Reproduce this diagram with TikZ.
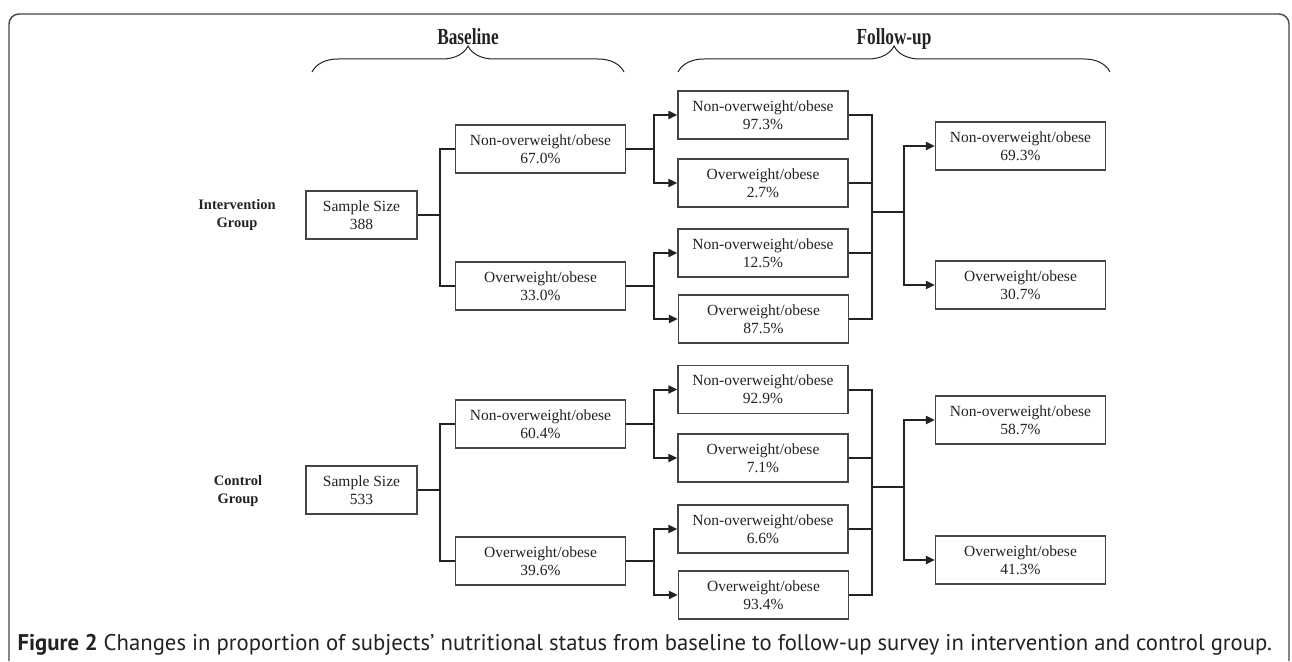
\documentclass[tikz,border=0pt]{standalone}
\usepackage{fontspec}
\setmainfont{Liberation Serif}
\newfontfamily\capfont{PT Sans}
\usetikzlibrary{arrows.meta,decorations.pathreplacing}
\definecolor{ink}{HTML}{222222}
\definecolor{rim}{HTML}{454545}
\tikzset{
  samp/.style  = {rectangle, draw=rim, line width=1.3pt, minimum width=111pt, minimum height=48pt, inner sep=0pt, align=center, text=ink, font=\fontsize{15.5}{18}\selectfont},
  stat/.style  = {samp, minimum width=170pt},
  grp/.style   = {align=center, text=ink, font=\fontsize{14.5}{18}\selectfont\bfseries},
  stage/.style = {anchor=base, text=ink, font=\fontsize{23}{26}\selectfont\bfseries},
  link/.style  = {line width=2pt, draw=ink},
  arr/.style   = {link, -{Triangle[length=9pt,width=8pt]}},
  brc/.style   = {decorate, decoration={brace, amplitude=26pt}, line width=1pt, draw=ink}
}

\begin{document}
\begin{tikzpicture}[x=1pt,y=-1pt]

  \useasboundingbox (0,0) rectangle (1292,661);
  \draw[rim, line width=1.4pt, rounded corners=10pt] (9,661) -- (9,14) -- (1289,14) -- (1289,661);

  % ---- fasi ----
  \node[stage] (base) at (468,45) {\scalebox{0.75}[1]{Baseline}};
  \node[stage] (fol)  at (894,45) {\scalebox{0.75}[1]{Follow-up}};
  \coordinate (bl0) at (312,72); \coordinate (bl1) at (624,72);
  \coordinate (fl0) at (678,72); \coordinate (fl1) at (1110,72);
  \draw[brc] (bl0) -- (bl1);
  \draw[brc] (fl0) -- (fl1);

  % ---- gruppo intervento ----
  \node[grp]  (gi) at (237,215) {Intervention\\Group};
  \node[samp] (s1) at (361.5,215) {Sample Size\\388};
  \node[stat] (a1) at (540.5,149) {Non-overweight/obese\\67.0\%};
  \node[stat] (a2) at (540.5,286) {Overweight/obese\\33.0\%};
  \node[stat] (b1) at (763,115) {Non-overweight/obese\\97.3\%};
  \node[stat] (b2) at (763,183) {Overweight/obese\\2.7\%};
  \node[stat] (b3) at (763,253) {Non-overweight/obese\\12.5\%};
  \node[stat] (b4) at (763.5,319) {Overweight/obese\\87.5\%};
  \node[stat] (c1) at (1020.5,146) {Non-overweight/obese\\69.3\%};
  \node[stat] (c2) at (1020.5,285) {Overweight/obese\\30.7\%};

  \coordinate (j1) at ([xshift=22pt]s1.east);
  \draw[link] (s1.east) -- (j1);
  \draw[link] (a1.west) -| (j1) |- (a2.west);
  \coordinate (k1) at ([xshift=28pt]a1.east);
  \coordinate (k2) at ([xshift=28pt]a2.east);
  \draw[link] (a1.east) -- (k1); \draw[arr] (k1) |- (b1.west); \draw[arr] (k1) |- (b2.west);
  \draw[link] (a2.east) -- (k2); \draw[arr] (k2) |- (b3.west); \draw[arr] (k2) |- (b4.west);
  \coordinate (m1) at (872,212);
  \draw[link] (b1.east) -| (m1) |- (b4.east);
  \draw[link] (b2.east) -| (m1); \draw[link] (b3.east) -| (m1);
  \coordinate (n1) at ([xshift=32pt]m1);
  \draw[link] (m1) -- (n1); \draw[arr] (n1) |- (c1.west); \draw[arr] (n1) |- (c2.west);

  % ---- gruppo controllo ----
  \node[grp]  (gc) at (238,491) {Control\\Group};
  \node[samp] (s2) at (361.5,490) {Sample Size\\533};
  \node[stat] (a3) at (540.5,424) {Non-overweight/obese\\60.4\%};
  \node[stat] (a4) at (540.5,561) {Overweight/obese\\39.6\%};
  \node[stat] (b5) at (763,389.5) {Non-overweight/obese\\92.9\%};
  \node[stat] (b6) at (763,458) {Overweight/obese\\7.1\%};
  \node[stat] (b7) at (763,529) {Non-overweight/obese\\6.6\%};
  \node[stat] (b8) at (763.5,595) {Overweight/obese\\93.4\%};
  \node[stat] (c3) at (1020.5,420) {Non-overweight/obese\\58.7\%};
  \node[stat] (c4) at (1020.5,560) {Overweight/obese\\41.3\%};

  \coordinate (j2) at ([xshift=22pt]s2.east);
  \draw[link] (s2.east) -- (j2);
  \draw[link] (a3.west) -| (j2) |- (a4.west);
  \coordinate (k3) at ([xshift=28pt]a3.east);
  \coordinate (k4) at ([xshift=28pt]a4.east);
  \draw[link] (a3.east) -- (k3); \draw[arr] (k3) |- (b5.west); \draw[arr] (k3) |- (b6.west);
  \draw[link] (a4.east) -- (k4); \draw[arr] (k4) |- (b7.west); \draw[arr] (k4) |- (b8.west);
  \coordinate (m2) at (872,487);
  \draw[link] (b5.east) -| (m2) |- (b8.east);
  \draw[link] (b6.east) -| (m2); \draw[link] (b7.east) -| (m2);
  \coordinate (n2) at ([xshift=32pt]m2);
  \draw[link] (m2) -- (n2); \draw[arr] (n2) |- (c3.west); \draw[arr] (n2) |- (c4.west);

  % ---- didascalia ----
  \node[anchor=west, text=ink, font=\capfont\fontsize{22.7}{26}\selectfont] (cap) at (14,645)
    {\textbf{Figure 2} Changes in proportion of subjects’ nutritional status from baseline to follow-up survey in intervention and control group.};

\end{tikzpicture}
\end{document}
